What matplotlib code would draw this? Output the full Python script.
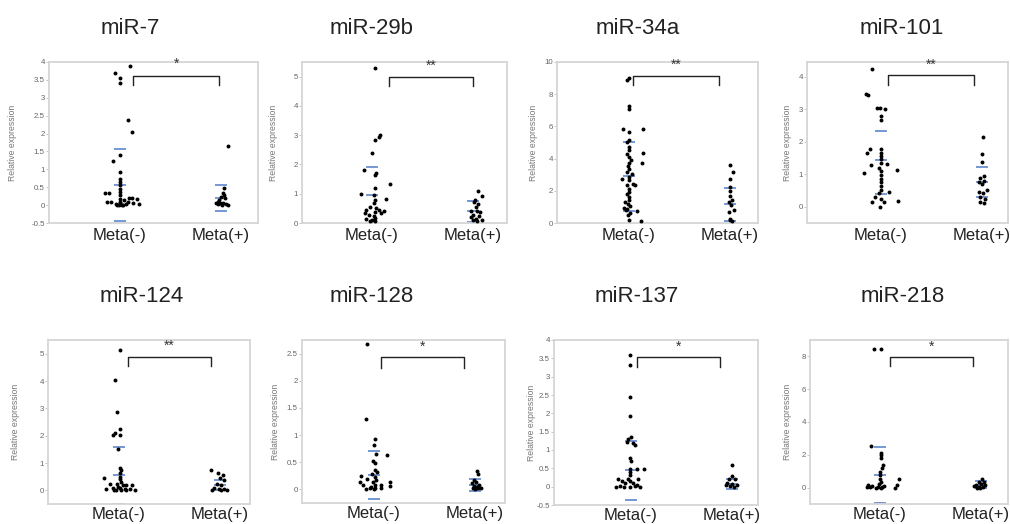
import numpy as np
import matplotlib
matplotlib.use("Agg")
import matplotlib.pyplot as plt
from matplotlib.ticker import FuncFormatter

plt.rcParams['font.family'] = ['Liberation Sans', 'DejaVu Sans']

titles = ["miR-7", "miR-29b", "miR-34a", "miR-101",
          "miR-124", "miR-128", "miR-137", "miR-218"]
groups = ["Meta(-)", "Meta(+)"]
stars = ["*", "**", "**", "**", "**", "*", "*", "*"]

# relative expression values per group, with the horizontal jitter
mir7_neg = [3.89, 3.69, 3.56, 3.42, 2.39, 2.05, 1.39, 1.23, 0.92, 0.74, 0.64, 0.55,
            0.46, 0.36, 0.34, 0.34, 0.27, 0.18, 0.20, 0.20, 0.18, 0.15, 0.08, 0.10,
            0.08, 0.04, 0.01, 0.01, 0.02, 0.09, 0.06, 0.02, 0.00, 0.00, 0.05]
mir7_neg_dx = [0.10, -0.05, 0.0, 0.0, 0.08, 0.12, 0.0, -0.07, 0.0, 0.0, 0.0, 0.0,
               0.0, 0.0, -0.15, -0.11, 0.0, 0.0, 0.09, 0.12, 0.17, 0.04, -0.13, -0.09,
               0.0, -0.04, -0.01, 0.02, 0.06, 0.08, 0.13, 0.19, -0.03, 0.03, 0.0]
mir7_pos = [1.66, 0.48, 0.34, 0.29, 0.22, 0.20, 0.13, 0.08, 0.07, 0.07, 0.06, 0.04,
            0.00, 0.02, 0.01]
mir7_pos_dx = [0.07, 0.03, 0.02, 0.03, 0.0, 0.04, -0.02, -0.03, -0.05, -0.01, 0.02,
               0.05, 0.07, -0.03, 0.01]

mir29b_neg = [5.28, 2.99, 2.93, 2.82, 2.39, 1.80, 1.70, 1.65, 1.32, 1.20, 1.00, 0.94,
              0.80, 0.81, 0.68, 0.55, 0.52, 0.43, 0.43, 0.41, 0.34, 0.38, 0.34, 0.26,
              0.23, 0.18, 0.13, 0.09, 0.07, 0.07]
mir29b_neg_dx = [0.03, 0.08, 0.07, 0.03, 0.0, -0.08, 0.04, 0.03, 0.18, 0.03, -0.11, 0.02,
                 0.03, 0.14, 0.02, -0.02, 0.04, -0.06, 0.07, 0.12, -0.07, 0.03, 0.09, -0.03,
                 0.02, 0.03, -0.06, 0.0, 0.03, -0.02]
mir29b_pos = [1.11, 0.91, 0.77, 0.72, 0.66, 0.55, 0.41, 0.41, 0.38, 0.26, 0.23, 0.20,
              0.15, 0.11, 0.09, 0.07]
mir29b_pos_dx = [0.05, 0.09, 0.02, 0.01, 0.05, 0.03, -0.02, 0.04, 0.07, 0.0, 0.06,
                 -0.02, 0.03, 0.09, 0.0, 0.04]

mir34a_neg = [9.0, 8.9, 7.24, 7.1, 5.82, 5.82, 5.65, 5.13, 5.03, 4.72, 4.51, 4.37,
              4.26, 4.10, 3.93, 3.73, 3.75, 3.52, 3.37, 3.17, 3.02, 2.86, 2.75, 2.65,
              2.44, 2.34, 2.34, 2.13, 1.93, 1.78, 1.61, 1.45, 1.30, 1.20, 1.06, 0.95,
              0.89, 0.79, 0.75, 0.64, 0.48, 0.21, 0.12]
mir34a_neg_dx = [0.0, -0.02, 0.0, 0.0, -0.06, 0.14, 0.0, 0.0, -0.02, 0.0, 0.0, 0.14,
                 -0.02, 0.0, 0.02, 0.13, 0.0, -0.01, 0.0, -0.02, 0.03, 0.0, -0.07, 0.0,
                 0.04, -0.02, 0.06, 0.0, 0.0, -0.02, 0.0, 0.0, -0.04, -0.01, 0.01, -0.05,
                 -0.02, -0.03, 0.08, 0.01, -0.01, 0.0, 0.12]
mir34a_pos = [3.58, 3.17, 2.75, 2.24, 1.97, 1.66, 1.41, 1.30, 1.10, 0.83, 0.68, 0.27,
              0.17, 0.10]
mir34a_pos_dx = [0.0, 0.03, 0.0, 0.0, 0.0, 0.0, 0.02, -0.01, 0.01, 0.04, -0.01, 0.0,
                 0.0, 0.02]

mir101_neg = [4.23, 3.46, 3.43, 3.04, 3.04, 2.99, 2.79, 2.67, 1.76, 1.66, 1.76, 1.66,
              1.56, 1.46, 1.32, 1.27, 1.33, 1.20, 1.10, 1.13, 1.05, 0.99, 0.84, 0.76,
              0.64, 0.51, 0.45, 0.41, 0.30, 0.25, 0.14, 0.14, 0.19, 0.00]
mir101_neg_dx = [-0.09, -0.15, -0.13, -0.04, -0.01, 0.04, 0.0, 0.0, -0.11, -0.14, 0.0, 0.0,
                 0.0, 0.0, 0.06, -0.10, 0.0, -0.02, 0.0, 0.16, -0.17, 0.0, 0.0, 0.0,
                 0.0, 0.0, 0.08, -0.02, -0.06, 0.0, -0.09, 0.03, 0.17, -0.01]
mir101_pos = [2.15, 1.61, 1.38, 0.94, 0.89, 0.79, 0.76, 0.69, 0.50, 0.45, 0.43, 0.31,
              0.25, 0.14, 0.12]
mir101_pos_dx = [0.01, 0.0, 0.0, 0.02, -0.02, 0.02, -0.03, 0.0, 0.05, -0.03, 0.01,
                 -0.02, 0.03, -0.02, 0.02]

mir124_neg = [5.15, 4.05, 2.88, 2.25, 2.09, 2.03, 2.03, 1.50, 0.80, 0.74, 0.65, 0.45,
              0.49, 0.41, 0.31, 0.22, 0.25, 0.21, 0.21, 0.21, 0.04, 0.09, 0.12, 0.09,
              0.06, 0.06, 0.02, 0.00, 0.00, 0.00, 0.00]
mir124_neg_dx = [0.01, -0.04, -0.02, 0.01, -0.04, -0.06, 0.01, -0.01, 0.01, 0.02, 0.01, -0.15,
                 0.01, 0.01, 0.02, -0.09, -0.02, 0.04, 0.07, 0.13, -0.13, -0.06, -0.01, 0.01,
                 0.06, 0.11, 0.16, -0.03, 0.02, 0.07, -0.05]
mir124_pos = [0.76, 0.65, 0.55, 0.45, 0.37, 0.25, 0.18, 0.09, 0.06, 0.06, 0.02, 0.00, 0.00]
mir124_pos_dx = [-0.09, -0.02, 0.03, 0.0, 0.04, -0.03, 0.01, -0.06, -0.01, 0.04, -0.08,
                 0.07, 0.01]

mir128_neg = [2.67, 1.29, 0.93, 0.81, 0.66, 0.64, 0.52, 0.49, 0.36, 0.32, 0.29, 0.25,
              0.23, 0.20, 0.17, 0.14, 0.13, 0.13, 0.09, 0.09, 0.08, 0.07, 0.05, 0.02,
              0.02, 0.00, 0.00, 0.02]
mir128_neg_dx = [-0.07, -0.08, 0.01, 0.0, 0.02, 0.13, -0.01, 0.01, 0.01, 0.03, -0.02, -0.13,
                 0.01, -0.07, 0.02, -0.01, -0.14, 0.16, -0.11, 0.01, 0.07, 0.16, -0.03, -0.04,
                 0.01, -0.08, 0.0, 0.07]
mir128_pos = [0.34, 0.28, 0.17, 0.13, 0.11, 0.09, 0.07, 0.05, 0.03, 0.02, 0.03, 0.00]
mir128_pos_dx = [0.02, 0.03, -0.01, 0.01, -0.03, 0.04, -0.01, 0.02, -0.02, 0.03, 0.06, 0.0]

mir137_neg = [3.58, 3.31, 2.44, 1.92, 1.35, 1.30, 1.23, 1.20, 1.13, 0.77, 0.70, 0.48,
              0.49, 0.49, 0.40, 0.31, 0.22, 0.22, 0.20, 0.15, 0.15, 0.11, 0.11, 0.05,
              0.02, 0.00, 0.00, 0.00, 0.00, 0.02]
mir137_neg_dx = [-0.01, -0.01, -0.01, -0.01, 0.0, -0.03, -0.04, 0.02, 0.04, -0.01, 0.0, -0.01,
                 0.06, 0.13, -0.01, -0.01, -0.13, -0.03, 0.07, -0.09, -0.01, -0.06, 0.02, 0.06,
                 -0.11, -0.15, -0.07, -0.01, 0.09, 0.04]
mir137_pos = [0.59, 0.28, 0.20, 0.20, 0.11, 0.08, 0.04, 0.05, 0.01, 0.00]
mir137_pos_dx = [0.0, 0.0, -0.03, 0.03, -0.05, 0.0, -0.06, 0.05, -0.02, 0.02]

mir218_neg = [8.45, 8.45, 2.53, 2.14, 1.98, 1.82, 1.37, 1.20, 0.96, 0.76, 0.55, 0.55,
              0.35, 0.24, 0.18, 0.18, 0.04, 0.04, 0.10, 0.04, 0.04, 0.10, 0.00, 0.00, 0.00]
mir218_neg_dx = [-0.06, 0.01, -0.09, 0.01, 0.01, 0.01, 0.03, 0.02, 0.0, 0.0, 0.0, 0.19,
                 0.01, -0.01, -0.12, 0.17, -0.13, -0.10, -0.08, -0.02, 0.02, 0.04, 0.15,
                 -0.04, 0.01]
mir218_pos = [0.55, 0.35, 0.35, 0.18, 0.24, 0.14, 0.10, 0.04, 0.04, 0.00, 0.00]
mir218_pos_dx = [0.01, -0.02, 0.03, -0.05, 0.0, 0.04, -0.07, -0.02, 0.02, -0.01, -0.04]

# blue marks: mean + SD, mean, mean - SD for Meta(-) and Meta(+)
neg_lines = [[1.58, 0.56, -0.45], [1.92, 0.95, -0.03], [5.05, 2.9, 0.75], [2.32, 1.45, 0.40],
             [1.60, 0.55, -0.50], [0.70, 0.27, -0.17], [1.25, 0.45, -0.35], [2.45, 0.75, -0.95]]
pos_lines = [[0.55, 0.19, -0.17], [0.75, 0.40, 0.05], [2.20, 1.20, 0.10], [1.22, 0.76, 0.30],
             [0.37, 0.20, 0.00], [0.20, 0.09, -0.02], [0.20, 0.08, -0.05], [0.40, 0.18, -0.05]]

neg_data = [mir7_neg, mir29b_neg, mir34a_neg, mir101_neg,
            mir124_neg, mir128_neg, mir137_neg, mir218_neg]
neg_dx = [mir7_neg_dx, mir29b_neg_dx, mir34a_neg_dx, mir101_neg_dx,
          mir124_neg_dx, mir128_neg_dx, mir137_neg_dx, mir218_neg_dx]
pos_data = [mir7_pos, mir29b_pos, mir34a_pos, mir101_pos,
            mir124_pos, mir128_pos, mir137_pos, mir218_pos]
pos_dx = [mir7_pos_dx, mir29b_pos_dx, mir34a_pos_dx, mir101_pos_dx,
          mir124_pos_dx, mir128_pos_dx, mir137_pos_dx, mir218_pos_dx]

# axis ranges
ylims = [(-0.5, 4), (0, 5.5), (0, 10), (-0.5, 4.45),
         (-0.5, 5.5), (-0.25, 2.75), (-0.5, 4), (-1, 9)]
yticks = [np.arange(-0.5, 4.01, 0.5), np.arange(0, 5.1, 1), np.arange(0, 10.1, 2),
          np.arange(0, 4.1, 1), np.arange(0, 5.1, 1), np.arange(0, 2.51, 0.5),
          np.arange(-0.5, 4.01, 0.5), np.arange(0, 8.1, 2)]

# significance brackets
br_x0 = [0.13, 0.17, 0.04, 0.07, 0.09, 0.07, 0.06, 0.10]
br_x1 = [0.98, 1.00, 0.89, 0.92, 0.91, 0.89, 0.88, 0.92]
br_top = [3.6, 5.0, 9.1, 4.04, 4.89, 2.43, 3.54, 7.96]
br_leg = [3.35, 4.69, 8.55, 3.73, 4.55, 2.24, 3.26, 7.39]
star_y = [3.95, 5.37, 9.85, 4.37, 5.28, 2.62, 3.81, 8.6]

# layout, in pixels of the 1010x524 figure
W, H = 1010, 524
axes_px = [(49, 62, 258, 223), (302, 62, 507, 223), (557, 62, 758, 223), (807, 62, 1008, 223),
           (48, 340, 250, 504), (302, 340, 505, 503), (554, 340, 758, 505), (810, 340, 1008, 504)]
cat0_px = [120, 372, 629, 881, 119, 374, 631, 880]
title_px = [(130, 28), (372, 28), (638, 28), (902, 28),
            (142, 297), (372, 297), (637, 297), (903, 297)]
ylab_px = [13, 273, 533, 788, 16, 275, 531, 788]
unit_px = 101.0

fig = plt.figure(figsize=(W / 100, H / 100), dpi=100)
fmt = FuncFormatter(lambda v, p: "{:g}".format(round(v, 2)))
blue = "#6b8fd0"

for i in range(8):
    l, t, r, b = axes_px[i]
    ax = fig.add_axes([l / W, 1 - b / H, (r - l) / W, (b - t) / H])
    c0 = cat0_px[i]
    ax.set_xlim(-(c0 - l) / unit_px, (r - c0) / unit_px)
    ax.set_ylim(*ylims[i])

    for k, lines in enumerate([neg_lines[i], pos_lines[i]]):
        for v in lines:
            ax.plot([k - 0.06, k + 0.06], [v, v], color=blue, lw=1.3, zorder=2,
                    solid_capstyle='butt')

    ax.scatter(np.array(neg_dx[i]), neg_data[i], s=8, color="black", zorder=3, linewidths=0)
    ax.scatter(1 + np.array(pos_dx[i]), pos_data[i], s=8, color="black", zorder=3, linewidths=0)

    ax.plot([br_x0[i], br_x0[i], br_x1[i], br_x1[i]],
            [br_leg[i], br_top[i], br_top[i], br_leg[i]], color="#222222", lw=1.0, zorder=4)
    ax.text((br_x0[i] + br_x1[i]) / 2, star_y[i], stars[i], ha="center", va="center",
            fontsize=10, color="#333333")

    ax.set_xticks([0, 1])
    ax.set_xticklabels(groups, fontsize=12, color="#222222")
    ax.tick_params(axis="x", length=0, pad=3.5 if i < 4 else 2.5)
    ax.set_yticks(yticks[i])
    ax.yaxis.set_major_formatter(fmt)
    ax.tick_params(axis="y", labelsize=5.7, colors="#bbbbbb", labelcolor="#666666",
                   length=2, width=0.6, pad=1)
    for s in ax.spines.values():
        s.set_color("#d6d6d6")
        s.set_linewidth(1.3)

    tx, ty = title_px[i]
    fig.text(tx / W, 1 - ty / H, titles[i], ha="center", va="center", fontsize=16,
             color="#222222")
    fig.text(ylab_px[i] / W, 1 - (t + b) / 2 / H, "Relative expression", rotation=90,
             ha="center", va="center", fontsize=6.2, color="#777777")

fig.savefig("out.png", dpi=100, facecolor="white")
